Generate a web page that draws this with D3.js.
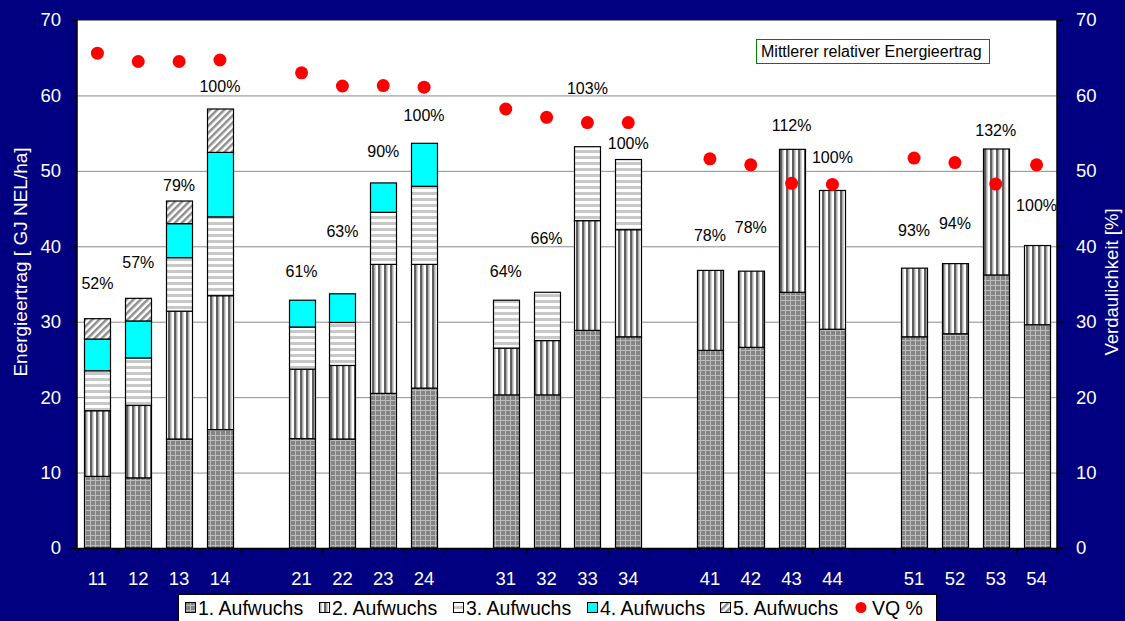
<!DOCTYPE html>
<html>
<head>
<meta charset="utf-8">
<script src="https://cdnjs.cloudflare.com/ajax/libs/d3/7.8.5/d3.min.js"></script>
<style>
  html, body { margin: 0; padding: 0; background: #000080; }
  svg { display: block; }
  text { font-family: "Liberation Sans", Arial, sans-serif; }
</style>
</head>
<body>
<svg id="chart" width="1125" height="621"></svg>
<script>
// ---------------- DATA ----------------
const categories = ["11","12","13","14","21","22","23","24","31","32","33","34","41","42","43","44","51","52","53","54"];
const seriesNames = ["1. Aufwuchs","2. Aufwuchs","3. Aufwuchs","4. Aufwuchs","5. Aufwuchs"];
const aufwuchs1 = [9.5, 9.3, 14.45, 15.7, 14.5, 14.45, 20.5, 21.2, 20.3, 20.3, 28.85, 28.0, 26.2, 26.6, 33.9, 29.0, 28.0, 28.4, 36.2, 29.6];
const aufwuchs2 = [8.7, 9.6, 16.95, 17.75, 9.2, 9.75, 17.1, 16.4, 6.2, 7.2, 14.55, 14.2, 10.6, 10.1, 18.95, 18.4, 9.1, 9.3, 16.7, 10.5];
const aufwuchs3 = [5.3, 6.3, 7.1, 10.45, 5.6, 5.7, 6.9, 10.35, 6.35, 6.4, 9.8, 9.3, 0, 0, 0, 0, 0, 0, 0, 0];
const aufwuchs4 = [4.2, 4.9, 4.5, 8.55, 3.55, 3.8, 3.9, 5.7, 0, 0, 0, 0, 0, 0, 0, 0, 0, 0, 0, 0];
const aufwuchs5 = [2.7, 3.0, 3.0, 5.75, 0, 0, 0, 0, 0, 0, 0, 0, 0, 0, 0, 0, 0, 0, 0, 0];
const vq = [65.6, 64.5, 64.5, 64.7, 63.0, 61.25, 61.3, 61.1, 58.2, 57.1, 56.4, 56.4, 51.6, 50.8, 48.35, 48.2, 51.7, 51.1, 48.25, 50.8];
const relLabels = ["52%","57%","79%","100%","61%","63%","90%","100%","64%","66%","103%","100%","78%","78%","112%","100%","93%","94%","132%","100%"];
const relLabelLevel = [35.1, 37.9, 48.1, 61.2, 36.7, 42.0, 52.6, 57.4, 36.7, 41.1, 61.0, 53.7, 41.5, 42.6, 56.1, 51.8, 42.2, 43.1, 55.4, 45.5];
const yTicks = [0, 10, 20, 30, 40, 50, 60, 70];
const leftTitle = "Energieertrag [ GJ NEL/ha]";
const rightTitle = "Verdaulichkeit [%]";
const boxText = "Mittlerer relativer Energieertrag";
const vqName = "VQ %";

// ---------------- LAYOUT ----------------
const svg = d3.select("#chart");
const X0 = 77, X1 = 1057, Y0 = 548, Y1 = 20;

// slots: groups of 4 separated by an empty slot
const slots = [];
categories.forEach((c, i) => { if (i > 0 && i % 4 === 0) slots.push("gap" + i); slots.push(c); });

const x = d3.scaleBand().domain(slots).range([X0, X1]).paddingInner(0).paddingOuter(0);
const y = d3.scaleLinear().domain([0, 70]).range([Y0, Y1]);
const y2 = d3.scaleLinear().domain([0, 70]).range([Y0, Y1]);
const barW = 26;

// patterns
const defs = svg.append("defs");
const p1 = defs.append("pattern").attr("id", "pat1").attr("patternUnits", "userSpaceOnUse").attr("width", 5).attr("height", 5);
p1.append("rect").attr("width", 5).attr("height", 5).attr("fill", "#848484");
p1.append("rect").attr("x", 0).attr("y", 0).attr("width", 5).attr("height", 1).attr("fill", "#bcbcbc");
p1.append("rect").attr("x", 0).attr("y", 0).attr("width", 1).attr("height", 5).attr("fill", "#bcbcbc");

const p2 = defs.append("pattern").attr("id", "pat2").attr("patternUnits", "userSpaceOnUse").attr("width", 6).attr("height", 6);
p2.append("rect").attr("width", 6).attr("height", 6).attr("fill", "#ffffff");
p2.append("rect").attr("x", 0).attr("width", 2.5).attr("height", 6).attr("fill", "#5f5f5f");
p2.append("rect").attr("x", 2.5).attr("width", 1).attr("height", 6).attr("fill", "#a8a8a8");

const p3 = defs.append("pattern").attr("id", "pat3").attr("patternUnits", "userSpaceOnUse").attr("width", 6).attr("height", 6);
p3.append("rect").attr("width", 6).attr("height", 6).attr("fill", "#ffffff");
p3.append("rect").attr("y", 0).attr("width", 6).attr("height", 3).attr("fill", "#c8c8c8");

const p5 = defs.append("pattern").attr("id", "pat5").attr("patternUnits", "userSpaceOnUse").attr("width", 5).attr("height", 5).attr("patternTransform", "rotate(45)");
p5.append("rect").attr("width", 5).attr("height", 5).attr("fill", "#ffffff");
p5.append("rect").attr("x", 0).attr("width", 2.5).attr("height", 5).attr("fill", "#8e8e8e");

const fills = ["url(#pat1)", "url(#pat2)", "url(#pat3)", "#00ffff", "url(#pat5)"];

// plot background
svg.append("rect").attr("x", X0).attr("y", Y1).attr("width", X1 - X0).attr("height", Y0 - Y1).attr("fill", "#ffffff");

// grid
svg.append("g").selectAll("line").data(yTicks.filter(t => t > 0)).join("line")
  .attr("x1", X0).attr("x2", X1).attr("y1", d => y(d) + 0.5).attr("y2", d => y(d) + 0.5)
  .attr("stroke", "#8c8c8c").attr("stroke-width", 1);

// stacked bars
const table = categories.map((c, i) => ({ cat: c, s0: aufwuchs1[i], s1: aufwuchs2[i], s2: aufwuchs3[i], s3: aufwuchs4[i], s4: aufwuchs5[i] }));
const stack = d3.stack().keys(["s0", "s1", "s2", "s3", "s4"]);
const stacked = stack(table);
stacked.forEach((layer, li) => {
  svg.append("g").selectAll("rect").data(layer.filter(d => d[1] - d[0] > 0)).join("rect")
    .attr("x", d => Math.round(x(d.data.cat) + (x.bandwidth() - barW) / 2) + 0.5)
    .attr("y", d => y(d[1]))
    .attr("width", barW)
    .attr("height", d => y(d[0]) - y(d[1]))
    .attr("fill", fills[li])
    .attr("stroke", "#000000").attr("stroke-width", 1.2);
});

// axes
const axisL = d3.axisLeft(y).tickValues(yTicks).tickSize(6).tickPadding(10);
const gL = svg.append("g").attr("transform", `translate(${X0},0)`).call(axisL);
const axisR = d3.axisRight(y2).tickValues(yTicks).tickSize(6).tickPadding(13);
const gR = svg.append("g").attr("transform", `translate(${X1},0)`).call(axisR);

const boundaries = slots.map(s => x(s)).concat([X1]);
const axisB = d3.axisBottom(d3.scaleLinear().domain([X0, X1]).range([X0, X1])).tickValues(boundaries).tickSize(6).tickFormat("");
const gB = svg.append("g").attr("transform", `translate(0,${Y0})`).call(axisB);

[gL, gR, gB].forEach(g => {
  g.select(".domain").attr("stroke", "#000000").attr("stroke-width", 1.5);
  g.selectAll(".tick line").attr("stroke", "#000000").attr("stroke-width", 1);
  g.selectAll(".tick text").attr("fill", "#ffffff").attr("font-size", 18.5).attr("font-family", "Liberation Sans, Arial, sans-serif");
});
gL.select(".domain").attr("d", `M0,${Y1}V${Y0}`);
gR.select(".domain").attr("d", `M0,${Y1}V${Y0}`);

// category labels
svg.append("g").selectAll("text").data(categories).join("text")
  .attr("x", d => x(d) + x.bandwidth() / 2)
  .attr("y", 585)
  .attr("text-anchor", "middle")
  .attr("fill", "#ffffff").attr("font-size", 18.5)
  .text(d => d);

// VQ dots
svg.append("g").selectAll("circle").data(vq).join("circle")
  .attr("cx", (d, i) => x(categories[i]) + x.bandwidth() / 2)
  .attr("cy", d => y2(d))
  .attr("r", 6.5)
  .attr("fill", "#ff0000");

// relative labels
svg.append("g").selectAll("text").data(relLabels).join("text")
  .attr("x", (d, i) => x(categories[i]) + x.bandwidth() / 2)
  .attr("y", (d, i) => y(relLabelLevel[i]) + 6)
  .attr("text-anchor", "middle")
  .attr("fill", "#000000").attr("font-size", 16)
  .text(d => d);

// axis titles
svg.append("text").attr("transform", `translate(27,262) rotate(-90)`)
  .attr("text-anchor", "middle").attr("fill", "#ffffff").attr("font-size", 19).text(leftTitle);
svg.append("text").attr("transform", `translate(1118,282) rotate(-90)`)
  .attr("text-anchor", "middle").attr("fill", "#ffffff").attr("font-size", 18.5).text(rightTitle);

// info box
svg.append("rect").attr("x", 756.5).attr("y", 39.5).attr("width", 233).attr("height", 24)
  .attr("fill", "#ffffff").attr("stroke", "#008000").attr("stroke-width", 1);
svg.append("text").attr("x", 761).attr("y", 57).attr("fill", "#000000").attr("font-size", 16).text(boxText);

// legend
const lg = svg.append("g");
lg.append("rect").attr("x", 178.5).attr("y", 594.5).attr("width", 758).attr("height", 40)
  .attr("fill", "#ffffff").attr("stroke", "#000000").attr("stroke-width", 1);
const legX = [185, 319, 453, 587, 720];
seriesNames.forEach((n, i) => {
  lg.append("rect").attr("x", legX[i] + 0.5).attr("y", 602.5).attr("width", 10).attr("height", 10)
    .attr("fill", fills[i]).attr("stroke", "#000000").attr("stroke-width", 1);
  lg.append("text").attr("x", legX[i] + 13).attr("y", 615).attr("fill", "#000000").attr("font-size", 19.5).text(n);
});
lg.append("circle").attr("cx", 861).attr("cy", 607.5).attr("r", 5.5).attr("fill", "#ff0000");
lg.append("text").attr("x", 872).attr("y", 615).attr("fill", "#000000").attr("font-size", 19.5).text(vqName);
</script>
</body>
</html>
